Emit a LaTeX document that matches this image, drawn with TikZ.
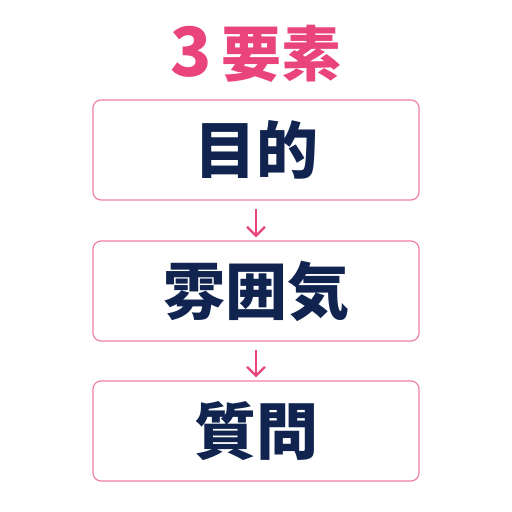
\documentclass[tikz,border=0pt]{standalone}
\usepackage{fontspec}
\newfontfamily\cjk{Noto Sans CJK JP}
\usetikzlibrary{
  arrows.meta, math,
}
\definecolor{rosa}{HTML}{E9457C}
\definecolor{rand}{HTML}{EF7FA3}
\definecolor{navy}{HTML}{10244F}

\begin{document}
\begin{tikzpicture}[
    x=1bp, y=-1bp,
    box/.style={
        rectangle, rounded corners=8bp,
        minimum height=100bp, minimum width=326bp,
        draw=rand, line width=1.2bp, fill=white,
        text=navy, font=\cjk\bfseries\fontsize{62bp}{66bp}\selectfont,
      },
    arr/.style={
        rosa, line width=2.3bp,
      }
  ]
  \useasboundingbox (0,0) rectangle (512,512);
  \node[text=rosa, font=\cjk\bfseries\fontsize{60bp}{64bp}\selectfont] (titel) at (256,54)
    {{\fontsize{68bp}{70bp}\selectfont 3}\hspace{10bp}要素};
  \def\z{0}
  \foreach \i/\y/\n in {
      0/150/目的,
      1/291/雰囲気,
      2/431/質問
    }{
      \node[box] (\i) at (256,\y) {\n};
      \ifx\i\z
      \else
        \draw[arr, evaluate={\o=int(\i-1);}, -{Straight Barb[length=9bp,width=18bp]}] ([yshift=-8bp]\o.south) -- ([yshift=3bp]\i.north);
      \fi
    }
\end{tikzpicture}
\end{document}
